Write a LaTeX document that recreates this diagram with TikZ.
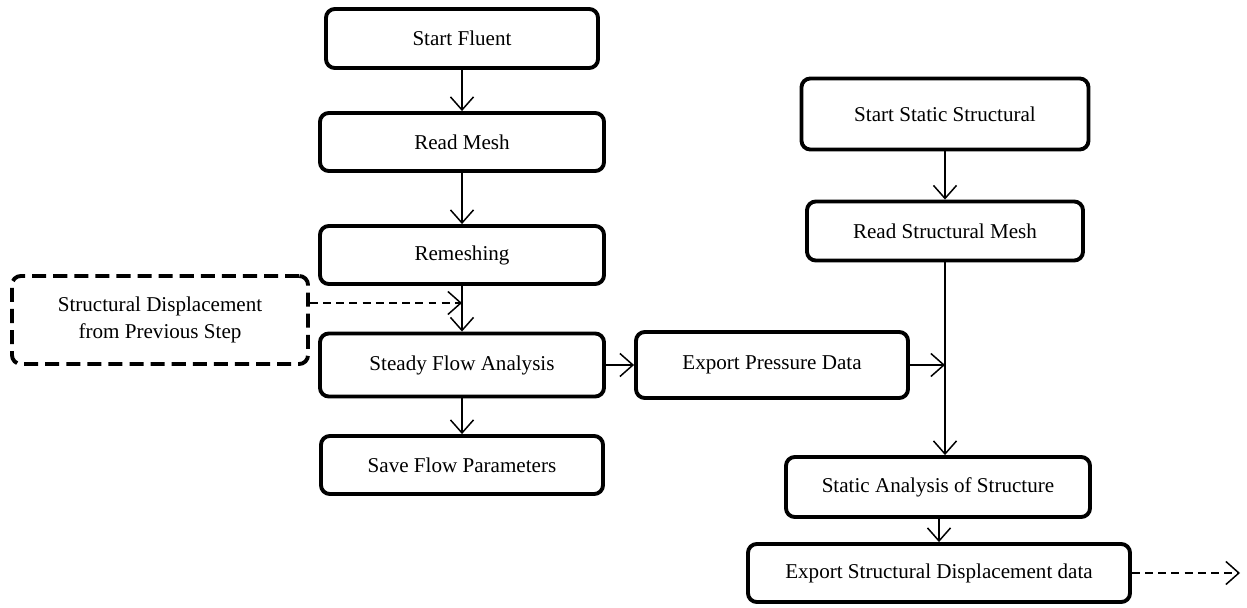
\documentclass[tikz,border=0pt]{standalone}
\usepackage{fontspec}
\setmainfont{Liberation Serif}
\usetikzlibrary{arrows.meta,positioning}
\tikzset{
	box/.style={draw, line width=2.2pt, rounded corners=5pt, align=center, inner sep=0pt, font=\fontsize{12}{15}\selectfont},
	dbox/.style={box, dash pattern=on 8pt off 4pt},
	arr/.style={-{Straight Barb[length=2.6mm,width=4.6mm]}, line width=0.85pt},
	darr/.style={arr, dash pattern=on 4.5pt off 3pt},
}
\begin{document}
\begin{tikzpicture}
	\useasboundingbox (0,0) rectangle (24.94,-12.16);
	% fluent side
	\node [box, minimum width=5.44cm, minimum height=1.18cm] (a) at (9.24,-0.77) {Start Fluent};
	\node [box, minimum width=5.68cm, minimum height=1.16cm] (b) at (9.24,-2.84) {Read Mesh};
	\node [box, minimum width=5.68cm, minimum height=1.16cm] (c) at (9.24,-5.10) {Remeshing};
	\node [box, minimum width=5.68cm, minimum height=1.26cm] (d) at (9.24,-7.30) {Steady Flow Analysis};
	\node [box, minimum width=5.64cm, minimum height=1.16cm] (e) at (9.24,-9.30) {Save Flow Parameters};
	\node [dbox, minimum width=5.92cm, minimum height=1.76cm] (p) at (3.20,-6.40) {Structural Displacement\\from Previous Step};
	\node [box, minimum width=5.44cm, minimum height=1.32cm] (f) at (15.44,-7.30) {Export Pressure Data};
	% structural side
	\node [box, minimum width=5.74cm, minimum height=1.42cm] (g) at (18.90,-2.28) {Start Static Structural};
	\node [box, minimum width=5.52cm, minimum height=1.18cm] (h) at (18.90,-4.62) {Read Structural Mesh};
	\node [box, minimum width=6.08cm, minimum height=1.20cm] (i) at (18.76,-9.74) {Static Analysis of Structure};
	\node [box, minimum width=7.64cm, minimum height=1.16cm] (j) at (18.78,-11.46) {Export Structural Displacement data};
	\coordinate (m1) at (9.24,-6.06);
	\coordinate (out) at (24.80,-11.46);

	\draw [arr] (a) -- (b);
	\draw [arr] (b) -- (c);
	\draw [arr] (c) -- (d);
	\draw [arr] (d) -- (e);
	\draw [darr] (p.east |- m1) -- (m1);
	\draw [arr] (d) -- (f);
	\draw [arr] (f.east) -- (f.east -| h.south);
	\draw [arr] (g) -- (h);
	\draw [arr] (h.south) -- (h.south |- i.north);
	\draw [arr] (i.south -| j.north) -- (j.north);
	\draw [darr] (j.east) -- (out);
\end{tikzpicture}
\end{document}
